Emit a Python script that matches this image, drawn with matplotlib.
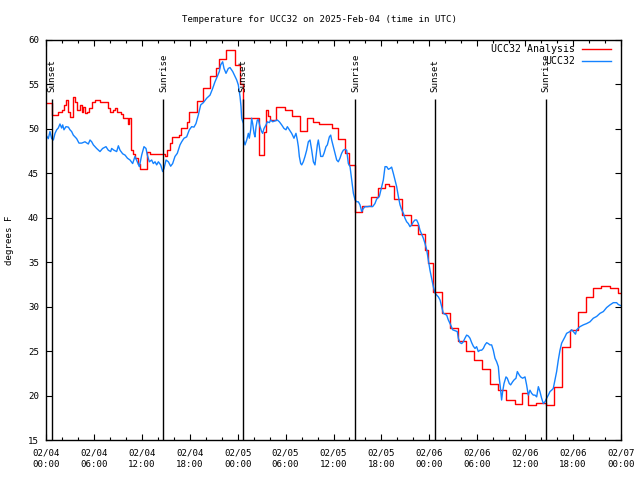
import matplotlib
matplotlib.use("Agg")
import matplotlib.pyplot as plt
from matplotlib.ticker import MultipleLocator, FixedLocator
from datetime import datetime, timedelta

# ---------------- data (hours since 2025-02-04 00:00 UTC) ----------------
title = "Temperature for UCC32 on 2025-Feb-04 (time in UTC)"
ylabel = "degrees F"

red_t = [0.0, 0.7, 1.5, 1.95, 2.25, 2.5, 2.8, 2.95, 3.4, 3.6, 3.9, 4.25, 4.45, 4.65,
         4.9, 5.1, 5.4, 5.7, 6.1, 6.7, 7.8, 8.0, 8.35, 8.6, 8.85, 9.35, 9.6, 10.25,
         10.45, 10.7, 10.85, 11.1, 11.5, 11.8, 12.6, 13.0, 14.9, 15.2, 15.5, 15.8,
         16.7, 16.9, 17.7, 17.9, 18.9, 19.7, 20.5, 21.3, 21.7, 22.6, 23.65, 24.3,
         24.7, 26.7, 27.3, 27.6, 27.8, 28.1, 28.8, 29.9, 30.8, 31.8, 32.7, 33.4,
         34.2, 35.8, 36.6, 37.5, 37.9, 38.65, 39.6, 40.7, 41.6, 42.5, 43.0, 43.6,
         44.6, 45.7, 46.6, 47.5, 47.8, 48.45, 49.55, 50.6, 51.6, 52.6, 53.6, 54.6,
         55.6, 56.6, 57.6, 58.7, 59.6, 60.4, 61.3, 62.6, 63.6, 64.6, 65.6, 66.6,
         67.6, 68.5, 69.5, 70.6, 71.6, 72.0]
red_v = [52.9, 51.6, 51.9, 52.1, 52.7, 53.3, 51.9, 51.3, 53.6, 53.0, 52.1, 52.7, 51.9, 52.5,
         51.8, 51.9, 52.3, 53.0, 53.3, 53.0, 52.3, 51.9, 52.1, 52.4, 51.9, 51.7, 51.2, 50.6,
         51.2, 47.6, 47.2, 46.7, 46.1, 45.5, 47.4, 47.2, 47.0, 47.6, 48.4, 49.1,
         49.3, 50.1, 50.8, 51.9, 53.1, 54.6, 56.0, 56.8, 57.9, 58.9, 57.2, 55.1,
         51.2, 47.1, 49.7, 52.1, 51.5, 51.0, 52.5, 52.1, 51.4, 49.8, 51.2, 50.8,
         50.6, 50.1, 48.9, 47.3, 45.9, 40.7, 41.3, 42.3, 43.4, 43.8, 43.6, 42.1,
         40.3, 39.2, 38.2, 36.4, 34.9, 31.7, 29.25, 27.6, 26.1, 25.0, 24.0, 23.0,
         21.3, 20.6, 19.5, 19.05, 20.25, 18.9, 19.2, 18.9, 21.0, 25.5, 27.4, 29.4,
         31.05, 32.1, 32.3, 32.1, 31.5, 31.5]

blue_t = [0.0, 0.29, 0.5, 0.71, 0.92, 1.13, 1.34, 1.54, 1.75, 1.96, 2.09, 2.25, 2.5, 2.8,
          3.0, 3.21, 3.42, 3.84, 4.13, 4.47, 4.88, 5.3, 5.51, 5.72, 5.93, 6.34, 6.76,
          7.09, 7.51, 7.8, 8.1, 8.22, 8.51, 8.85, 9.06, 9.27, 9.6, 9.9, 10.2, 10.52,
          10.85, 11.14, 11.43, 11.69, 11.98, 12.27, 12.52, 12.69, 12.94, 13.23, 13.44,
          13.65, 13.86, 14.07, 14.36, 14.61, 14.78, 15.03, 15.32, 15.61, 15.86, 16.15,
          16.44, 16.78, 16.99, 17.28, 17.61, 17.95, 18.24, 18.53, 18.78, 19.07, 19.37,
          19.7, 20.12, 20.54, 20.87, 21.16, 21.45, 21.7, 21.87, 22.12, 22.29, 22.54,
          22.83, 23.04, 23.38, 23.67, 23.88, 24.08, 24.3, 24.42, 24.5, 24.71, 24.75,
          24.92, 25.13, 25.34, 25.46, 25.63, 25.75, 25.88, 26.05, 26.17, 26.3, 26.46,
          26.59, 26.8, 27.0, 27.13, 27.3, 27.55, 27.72, 27.97, 28.13, 28.38, 28.67,
          28.97, 29.22, 29.51, 29.8, 30.05, 30.22, 30.47, 30.76, 31.05, 31.3, 31.47,
          31.6, 31.72, 31.89, 32.02, 32.22, 32.43, 32.64, 32.85, 33.06, 33.27, 33.48,
          33.68, 33.81, 33.98, 34.1, 34.23, 34.4, 34.65, 34.81, 35.06, 35.23, 35.48,
          35.65, 35.77, 35.98, 36.19, 36.4, 36.6, 36.81, 37.02, 37.23, 37.44, 37.65,
          37.86, 38.07, 38.28, 38.49, 38.7, 38.9, 39.11, 39.32, 39.53, 39.74, 39.95,
          40.24, 40.57, 40.9, 41.19, 41.4, 41.74, 42.03, 42.24, 42.45, 42.66, 42.87,
          43.08, 43.28, 43.49, 43.7, 43.91, 44.12, 44.33, 44.54, 44.75, 44.95, 45.16,
          45.37, 45.58, 45.79, 46.0, 46.2, 46.41, 46.62, 46.83, 47.04, 47.25, 47.46,
          47.67, 47.88, 48.08, 48.29, 48.5, 48.71, 48.92, 49.13, 49.34, 49.54, 49.75,
          50.17, 50.38, 50.67, 50.92, 51.21, 51.5, 51.63, 51.84, 52.05, 52.25, 52.46,
          52.67, 52.88, 53.09, 53.3, 53.51, 53.72, 53.92, 54.13, 54.34, 54.55, 54.76,
          54.97, 55.18, 55.38, 55.59, 55.8, 56.01, 56.22, 56.43, 56.64, 56.76, 56.93,
          57.05, 57.18, 57.35, 57.6, 57.76, 58.01, 58.18, 58.43, 58.6, 58.85, 59.02,
          59.27, 59.43, 59.68, 59.98, 60.18, 60.39, 60.6, 60.81, 61.02, 61.23, 61.44,
          61.65, 61.85, 62.06, 62.27, 62.48, 62.69, 62.9, 63.11, 63.31, 63.52, 63.73,
          63.94, 64.15, 64.36, 64.57, 64.78, 64.98, 65.19, 65.61, 65.82, 66.03, 66.3,
          66.45, 66.86, 67.28, 67.7, 68.12, 68.53, 68.95, 69.37, 69.79, 70.2, 70.62,
          71.04, 71.45, 71.66, 72.0]
blue_v = [49.3, 48.9, 49.7, 48.9, 48.75, 49.5, 49.9, 50.1, 50.55, 50.1, 50.45, 49.9, 50.25, 50.2,
          49.9, 49.7, 49.3, 48.9, 48.4, 48.4, 48.55, 48.3, 48.75, 48.55, 48.2, 47.8, 47.45,
          47.8, 48.0, 47.6, 47.45, 47.8, 47.6, 47.45, 48.1, 47.6, 47.2, 47.05, 46.7, 46.5,
          46.1, 46.9, 46.3, 45.75, 47.05, 48.0, 47.8, 47.05, 46.3, 46.5, 46.1,
          46.3, 45.95, 46.3, 45.95, 45.2, 45.55, 46.5, 46.3, 45.8, 46.1, 46.9,
          47.25, 48.2, 48.55, 48.95, 49.1, 49.9, 50.25, 50.2, 50.6, 51.55, 52.7,
          52.95, 53.45, 53.8, 54.55, 55.3, 55.9, 56.45, 57.2, 57.55, 56.8, 56.25,
          56.8, 56.9, 56.45, 55.9, 55.5, 54.95, 53.6, 52.5, 51.2, 50.6, 48.75,
          48.2, 48.75, 49.5, 48.95, 49.9, 51.2, 50.6, 49.5, 49.1, 50.25, 51.0,
          51.05, 50.25, 49.7, 49.5, 50.05, 50.45, 50.8, 50.7, 51.0, 50.8, 50.9,
          51.0, 50.8, 50.45, 50.05, 49.9, 50.25, 49.9, 49.5, 48.95, 49.5, 48.75,
          48.0, 46.9, 46.1, 45.95, 46.3, 46.9, 47.6, 48.55, 48.75, 47.6, 46.3,
          45.95, 46.9, 48.2, 48.75, 48.0, 46.9, 46.9, 47.25, 48.0, 48.2, 49.1,
          49.3, 48.75, 48.0, 47.25, 46.5, 46.3, 46.7, 47.25, 47.6, 47.7, 47.6,
          46.1, 45.75, 44.25, 42.75, 42.0, 41.8, 41.8, 41.45, 40.7, 41.05, 41.25,
          41.25, 41.3, 41.25, 41.6, 42.1, 42.4, 43.5, 44.25, 45.75, 45.75, 45.45,
          45.55, 45.7, 45.0, 44.25, 43.5, 42.4, 41.45, 40.9, 40.5, 39.95, 39.55,
          39.35, 39.0, 39.2, 39.55, 39.75, 39.75, 39.35, 38.6, 38.15, 37.7, 37.1,
          36.4, 35.25, 34.1, 33.2, 32.25, 31.55, 31.3, 31.1, 30.75, 30.0, 29.25,
          29.05, 28.5, 27.95, 27.4, 27.3, 27.2, 26.45, 25.95, 25.85, 26.05, 26.45,
          26.8, 26.7, 26.45, 25.95, 25.55, 25.3, 25.5, 24.95, 25.1, 25.1, 25.3,
          25.7, 25.95, 25.85, 25.7, 25.7, 25.1, 24.2, 23.8, 23.25, 21.95, 20.6,
          19.5, 20.45, 21.35, 22.1, 21.95, 21.35, 21.2, 21.55, 21.75, 21.95, 22.7,
          22.3, 22.1, 21.95, 22.1, 21.2, 20.05, 20.6, 20.25, 20.05, 20.05, 19.85,
          21.0, 20.45, 19.7, 19.1, 19.3, 19.7, 20.05, 20.45, 20.6, 20.8, 21.75,
          22.7, 24.0, 25.1, 25.9, 26.25, 26.6, 27.0, 27.2, 27.4, 27.2, 26.9,
          27.4, 27.75, 27.95, 28.1, 28.3, 28.7, 28.9, 29.25, 29.45, 29.9, 30.2,
          30.45, 30.45, 30.25, 30.1]

sun_t = [0.71, 14.7, 24.71, 38.75, 48.73, 62.63]
sun_lbl = ["Sunset", "Sunrise", "Sunset", "Sunrise", "Sunset", "Sunrise"]

start = datetime(2025, 2, 4)
xtick_h = list(range(0, 73, 6))
xtick_lbl = [(start + timedelta(hours=h)).strftime("%m/%d\n%H:%M") for h in xtick_h]

# ---------------- drawing ----------------
FONT = "DejaVu Sans Mono"
FS = 6.6
plt.rcParams['font.family'] = [FONT]

fig = plt.figure(figsize=(6.4, 4.8), dpi=100)
ax = fig.add_axes([46/640, 40/480, 575/640, 400/480])

ax.step(red_t, red_v, where='post', color='#ff0000', lw=1.0, label='UCC32 Analysis')
ax.plot(blue_t, blue_v, color='#1482ff', lw=1.0, label='UCC32')

xf = ax.get_xaxis_transform()
ax.vlines(sun_t, 0, 0.8525, colors='black', lw=1.0, transform=xf)
for t, s in zip(sun_t, sun_lbl):
    ax.text(t, 0.869, s, rotation=90, ha='center', va='bottom', transform=xf,
            fontsize=FS, family=FONT)

ax.set_xlim(0, 72)
ax.set_ylim(15, 60)
ax.xaxis.set_major_locator(FixedLocator(xtick_h))
ax.set_xticklabels(xtick_lbl, fontsize=FS, family=FONT, linespacing=1.45)
ax.xaxis.set_minor_locator(MultipleLocator(2))
ax.yaxis.set_major_locator(MultipleLocator(5))
ax.tick_params(axis='both', which='both', direction='in', top=True, right=True,
               width=0.8, colors='black')
ax.tick_params(axis='both', which='major', length=4.5)
ax.tick_params(axis='both', which='minor', length=2.5)
ax.tick_params(axis='x', which='major', pad=6)
ax.tick_params(axis='y', which='major', pad=5, labelsize=FS)
for sp in ax.spines.values():
    sp.set_linewidth(1.0)

fig.text(319/640, 1 - 19/480, title, ha='center', va='center', fontsize=FS, family=FONT)
fig.text(10/640, 0.5, ylabel, ha='center', va='center', rotation=90, fontsize=FS, family=FONT)

leg = ax.legend(loc='upper right', bbox_to_anchor=(611/640, 1 - 44/480),
                bbox_transform=fig.transFigure, frameon=False, markerfirst=False,
                prop={'family': FONT, 'size': 7.1}, handlelength=2.9,
                handletextpad=0.75, labelspacing=0.25,
                borderaxespad=0, borderpad=0)

fig.savefig("out.png", dpi=100)
